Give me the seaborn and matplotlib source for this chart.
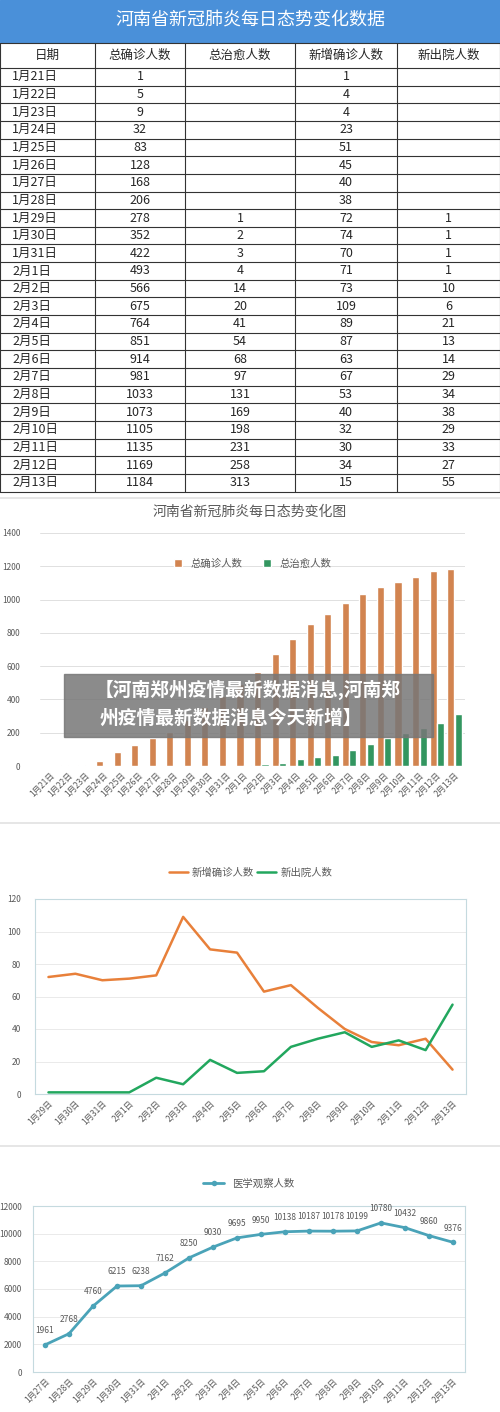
import matplotlib
matplotlib.use('Agg')
import matplotlib.pyplot as plt
import seaborn as sns
import pandas as pd

sns.set_style('white')
plt.rcParams['font.family'] = ['Noto Sans CJK SC', 'DejaVu Sans']

W, H = 500, 1412

# ---- data ----
dates = ['1月21日', '1月22日', '1月23日', '1月24日', '1月25日', '1月26日', '1月27日',
         '1月28日', '1月29日', '1月30日', '1月31日', '2月1日', '2月2日', '2月3日',
         '2月4日', '2月5日', '2月6日', '2月7日', '2月8日', '2月9日', '2月10日',
         '2月11日', '2月12日', '2月13日']
total_confirmed = [1, 5, 9, 32, 83, 128, 168, 206, 278, 352, 422, 493, 566, 675,
                   764, 851, 914, 981, 1033, 1073, 1105, 1135, 1169, 1184]
total_cured = [None] * 8 + [1, 2, 3, 4, 14, 20, 41, 54, 68, 97, 131, 169, 198,
                            231, 258, 313]
new_confirmed = [1, 4, 4, 23, 51, 45, 40, 38, 72, 74, 70, 71, 73, 109, 89, 87,
                 63, 67, 53, 40, 32, 30, 34, 15]
new_discharged = [None] * 8 + [1, 1, 1, 1, 10, 6, 21, 13, 14, 29, 34, 38, 29,
                               33, 27, 55]
obs_dates = ['1月27日', '1月28日', '1月29日', '1月30日', '1月31日', '2月1日', '2月2日',
             '2月3日', '2月4日', '2月5日', '2月6日', '2月7日', '2月8日', '2月9日',
             '2月10日', '2月11日', '2月12日', '2月13日']
observed = [1961, 2768, 4760, 6215, 6238, 7162, 8250, 9030, 9695, 9950, 10138,
            10187, 10178, 10199, 10780, 10432, 9860, 9376]

ORANGE = '#E8803A'
GREEN = '#22A75E'
TEAL = '#4AA3B8'
GRAY = '#595959'


def fax(x0, y0, x1, y1):
    return fig.add_axes([x0 / W, 1 - y1 / H, (x1 - x0) / W, (y1 - y0) / H])


def style_xticks(ax):
    ax.tick_params(axis='x', labelsize=6, colors=GRAY, length=0, rotation=45)
    for t in ax.get_xticklabels():
        t.set_ha('right')
        t.set_rotation_mode('anchor')


fig = plt.figure(figsize=(W / 100, H / 100), dpi=100, facecolor='white')

# ---- table ----
tb = fax(0, 0, 500, 495)
tb.set_xlim(0, 500)
tb.set_ylim(495, 0)
tb.axis('off')
tb.add_patch(plt.Rectangle((0, 0), 500, 42, color='#4A90D9'))
tb.text(250, 20, '河南省新冠肺炎每日态势变化数据', color='white', fontsize=13,
        ha='center', va='center')
cols = [0, 95, 185, 295, 397, 500]
headers = ['日期', '总确诊人数', '总治愈人数', '新增确诊人数', '新出院人数']
top, hh, rh = 43, 25, 17.65
bottom = top + hh + rh * 24
for x in cols:
    tb.plot([x, x], [top, bottom], color='#333333', lw=0.8)
tb.plot([0, 500], [top, top], color='#333333', lw=0.8)
for r in range(25):
    tb.plot([0, 500], [top + hh + r * rh] * 2, color='#333333', lw=0.8)
for c, h in enumerate(headers):
    tb.text((cols[c] + cols[c + 1]) / 2, top + hh / 2, h, fontsize=9,
            ha='center', va='center')
for i in range(24):
    y = top + hh + rh * (i + 0.5)
    vals = [dates[i], total_confirmed[i], total_cured[i], new_confirmed[i], new_discharged[i]]
    for c, v in enumerate(vals):
        if v is None:
            continue
        if c == 0:
            tb.text(12, y, v, fontsize=9, ha='left', va='center')
        else:
            tb.text((cols[c] + cols[c + 1]) / 2, y, str(v), fontsize=9,
                    ha='center', va='center')

# separators
for y in [497, 822, 1145]:
    sep = fax(0, y, 500, y + 2)
    sep.axis('off')
    sep.add_patch(plt.Rectangle((0, 0), 1, 1, color='#E6E6E6', transform=sep.transAxes))

# ---- bar chart ----
fig.text(250 / W, 1 - 512 / H, '河南省新冠肺炎每日态势变化图', fontsize=10, color=GRAY,
         ha='center', va='center')
ax1 = fax(40, 533, 465, 766)
df1 = pd.DataFrame({'date': dates * 2,
                    'val': total_confirmed + [v if v is not None else 0 for v in total_cured],
                    'kind': ['总确诊人数'] * 24 + ['总治愈人数'] * 24})
sns.barplot(data=df1, x='date', y='val', hue='kind', palette=[ORANGE, GREEN],
            width=0.85, ax=ax1, gap=0.05)
ax1.set_ylim(0, 1400)
ax1.set_xlim(-0.6, 23.6)
ax1.set_yticks(range(0, 1401, 200))
ax1.grid(axis='y', color='#E0E0E0', lw=0.7)
ax1.set_axisbelow(True)
sns.despine(ax=ax1, left=True, bottom=True)
ax1.set_xlabel('')
ax1.set_ylabel('')
ax1.tick_params(axis='y', labelsize=6, colors=GRAY, length=0, pad=14)
style_xticks(ax1)
ax1.legend(loc='upper center', bbox_to_anchor=(0.5, 0.93), ncol=2, frameon=False,
           fontsize=7.5, handlelength=0.8, handleheight=0.8, labelcolor=GRAY)

# overlay banner
fig.patches.append(plt.Rectangle((64 / W, 1 - 737 / H), (433 - 64) / W, 63 / H,
                                 transform=fig.transFigure, color='#777777', alpha=0.85))
fig.text(248 / W, 1 - 690 / H, '【河南郑州疫情最新数据消息,河南郑', color='white',
         fontsize=13.5, fontweight='bold', ha='center', va='center')
fig.text(100 / W, 1 - 718 / H, '州疫情最新数据消息今天新增】', color='white',
         fontsize=13.5, fontweight='bold', ha='left', va='center')

# ---- line chart: new confirmed / discharged ----
ax2 = fax(35, 899, 466, 1094)
ld = dates[8:]
sns.lineplot(x=ld, y=new_confirmed[8:], color=ORANGE, lw=1.8, ax=ax2,
             label='新增确诊人数', sort=False)
sns.lineplot(x=ld, y=new_discharged[8:], color=GREEN, lw=1.8, ax=ax2,
             label='新出院人数', sort=False)
ax2.set_ylim(0, 120)
ax2.set_xlim(-0.5, len(ld) - 0.5)
ax2.set_yticks(range(0, 121, 20))
ax2.grid(axis='y', color='#EAEAEA', lw=0.7)
for s in ax2.spines.values():
    s.set_color('#C5DADF')
ax2.tick_params(axis='y', labelsize=6, colors=GRAY, length=0, pad=10)
style_xticks(ax2)
ax2.legend(loc='lower center', bbox_to_anchor=(0.5, 1.06), ncol=2, frameon=False,
           fontsize=7.5, handlelength=1.8, columnspacing=0.3, handletextpad=0.4,
           labelcolor=GRAY)

# ---- line chart: observed ----
ax3 = fax(33, 1206, 465, 1372)
sns.lineplot(x=obs_dates, y=observed, color=TEAL, lw=2, marker='o', markersize=4,
             markeredgewidth=0, ax=ax3, label='医学观察人数', sort=False)
for i, v in enumerate(observed):
    ax3.annotate(str(v), (i, v), xytext=(0, 7), textcoords='offset points',
                 ha='center', va='bottom', fontsize=6, color=GRAY)
ax3.set_ylim(0, 12000)
ax3.set_xlim(-0.5, len(obs_dates) - 0.5)
ax3.set_yticks(range(0, 12001, 2000))
ax3.grid(axis='y', color='#EAEAEA', lw=0.7)
for s in ax3.spines.values():
    s.set_color('#C5DADF')
ax3.tick_params(axis='y', labelsize=6, colors=GRAY, length=0, pad=8)
style_xticks(ax3)
ax3.legend(loc='lower center', bbox_to_anchor=(0.5, 1.05), frameon=False,
           fontsize=7.5, handlelength=2, labelcolor=GRAY)

fig.savefig('out.png', dpi=100)
